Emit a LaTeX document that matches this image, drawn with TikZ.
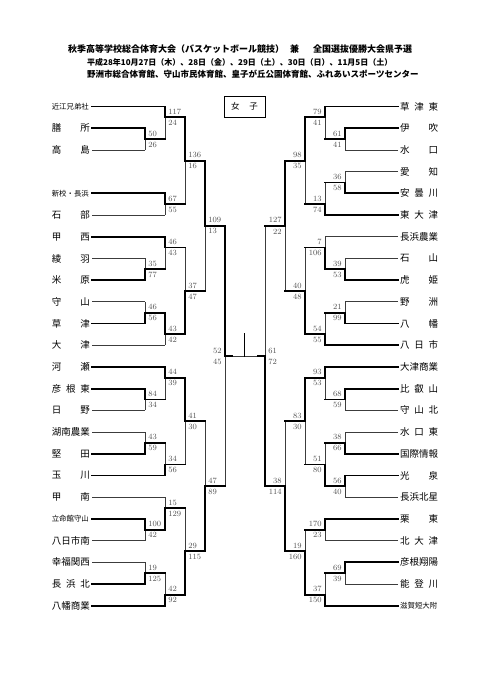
\documentclass[tikz,border=0pt]{standalone}
\usepackage{fontspec}
\usetikzlibrary{calc}
\newfontfamily\jp{Noto Sans CJK JP}
\definecolor{scoregray}{RGB}{80,80,80}
\definecolor{thingray}{RGB}{60,60,60}
\newcommand{\ssz}{\fontsize{7.4}{8}\selectfont}
\newcommand{\tn}[1]{\makebox[38pt][s]{#1}}
% name, (x,y) of output, top in, bottom in, top style, bottom style,
% top score, bottom score, label anchor
\newcommand{\game}[9]{%
    \coordinate (#1) at (#2);
    \draw[#5] (#3 -| #1) -- (#1);
    \draw[#6] (#1) -- (#4 -| #1);
    \node[score, anchor=#9] (#1-t) at ([yshift=5.5pt]#1) {#7};
    \node[score, anchor=#9] (#1-b) at ([yshift=-5.5pt]#1) {#8};
}

\begin{document}
\begin{tikzpicture}[x=1pt, y=-1pt,
    win/.style={line width=1.8pt, line cap=rect},
    lose/.style={line width=0.7pt, draw=thingray},
    score/.style={font=\fontsize{8}{8}\selectfont,
                  text=scoregray, inner xsep=3.2pt,
                  inner ysep=0pt},
    tml/.style={anchor=east, inner xsep=2pt, inner ysep=1pt,
                font=\jp\fontsize{9.5}{10}\selectfont},
    tmr/.style={anchor=west, inner xsep=2pt, inner ysep=1pt,
                font=\jp\fontsize{9.5}{10}\selectfont},
    ttl/.style={anchor=west, inner sep=0pt,
                font=\jp\bfseries\fontsize{9}{10}\selectfont},
]
\useasboundingbox (0,0) rectangle (481,680);

% -- Title ------------------------------------
\node[ttl] (ttl1) at (68,49)
    {秋季高等学校総合体育大会（バスケットボール競技）\hspace{6pt}兼\hspace{14pt}全国選抜優勝大会県予選};
\node[ttl, font=\jp\bfseries\fontsize{8}{9}\selectfont] (ttl2) at (87,62)
    {平成28年10月27日（木）、28日（金）、29日（土）、30日（日）、11月5日（土）};
\node[ttl, font=\jp\bfseries\fontsize{8.5}{9}\selectfont] (ttl3) at (87,74.5)
    {野洲市総合体育館、守山市民体育館、皇子が丘公園体育館、ふれあいスポーツセンター};

% -- Division box -----------------------------
\node[draw, line width=0.9pt, minimum width=41pt, minimum height=21pt,
      inner sep=0pt, font=\jp\fontsize{8.5}{9}\selectfont]
    (div) at (244.5,106.5) {\makebox[27pt][s]{女 子}};

% -- Teams ------------------------------------
\foreach \k/\n in {0/{\ssz 近江兄弟社}, 1/{膳 所}, 2/{高 島},
        4/{\ssz 新校・長浜}, 5/{石 部}, 6/{甲 西}, 7/{綾 羽},
        8/{米 原}, 9/{守 山}, 10/{草 津}, 11/{大 津}, 12/{河 瀬},
        13/{彦 根 東}, 14/{日 野}, 15/{湖南農業}, 16/{堅 田},
        17/{玉 川}, 18/{甲 南}, 19/{\ssz 立命館守山}, 20/{八日市南},
        21/{幸福関西}, 22/{長 浜 北}, 23/{八幡商業}}
    \node[tml] (L\k) at (92,106.5+21.7*\k) {\tn{\n}};
\foreach \k/\n in {0/{草 津 東}, 1/{伊 吹}, 2/{水 口}, 3/{愛 知},
        4/{安 曇 川}, 5/{東 大 津}, 6/{長浜農業}, 7/{石 山},
        8/{虎 姫}, 9/{野 洲}, 10/{八 幡}, 11/{八 日 市},
        12/{大津商業}, 13/{比 叡 山}, 14/{守 山 北}, 15/{水 口 東},
        16/{国際情報}, 17/{光 泉}, 18/{長浜北星}, 19/{栗 東},
        20/{北 大 津}, 21/{彦根翔陽}, 22/{能 登 川}, 23/{\ssz 滋賀短大附}}
    \node[tmr] (R\k) at (398,106.5+21.7*\k) {\tn{\n}};

% -- Left half games --------------------------
\game{ga1}{145,139.05}{L1}{L2}{win}{lose}{50}{26}{west}
\game{ga2}{165,117.35}{L0}{ga1}{win}{lose}{117}{24}{west}
\game{gb1}{165,204.15}{L4}{L5}{win}{lose}{67}{55}{west}
\game{gab}{185,160.75}{ga2}{gb1}{win}{lose}{136}{16}{west}
\game{gc1}{145,269.25}{L7}{L8}{lose}{win}{35}{77}{west}
\game{gc2}{165,247.55}{L6}{gc1}{win}{lose}{46}{43}{west}
\game{gd1}{145,312.65}{L9}{L10}{lose}{win}{46}{56}{west}
\game{gd2}{165,334.35}{gd1}{L11}{win}{lose}{43}{42}{west}
\game{gcd}{185,290.95}{gc2}{gd2}{lose}{win}{37}{47}{west}
\game{gtop}{205,225.85}{gab}{gcd}{win}{lose}{109}{13}{west}
\game{ge1}{145,399.45}{L13}{L14}{win}{lose}{84}{34}{west}
\game{ge2}{165,377.75}{L12}{ge1}{win}{lose}{44}{39}{west}
\game{gf1}{145,442.85}{L15}{L16}{lose}{win}{43}{59}{west}
\game{gf2}{165,464.55}{gf1}{L17}{lose}{win}{34}{56}{west}
\game{gef}{185,421.15}{ge2}{gf2}{win}{lose}{41}{30}{west}
\game{gg1}{145,529.65}{L19}{L20}{win}{lose}{100}{42}{west}
\game{gg2}{165,507.95}{L18}{gg1}{lose}{win}{15}{129}{west}
\game{gh1}{145,573.05}{L21}{L22}{lose}{win}{19}{125}{west}
\game{gh2}{165,594.75}{gh1}{L23}{lose}{win}{42}{92}{west}
\game{ggh}{185,551.35}{gg2}{gh2}{lose}{win}{29}{115}{west}
\game{gbot}{205,486.25}{gef}{ggh}{lose}{win}{47}{89}{west}
\game{gleft}{225,356.05}{gtop}{gbot}{win}{lose}{52}{45}{east}

% -- Right half games -------------------------
\game{ra1}{345,139.05}{R1}{R2}{win}{lose}{61}{41}{east}
\game{ra2}{325,117.35}{R0}{ra1}{win}{lose}{79}{41}{east}
\game{rb1}{345,182.45}{R3}{R4}{lose}{win}{36}{58}{east}
\game{rb2}{325,204.15}{rb1}{R5}{lose}{win}{13}{74}{east}
\game{rab}{305,160.75}{ra2}{rb2}{win}{lose}{98}{35}{east}
\game{rc1}{345,269.25}{R7}{R8}{lose}{win}{39}{53}{east}
\game{rc2}{325,247.55}{R6}{rc1}{lose}{win}{7}{106}{east}
\game{rd1}{345,312.65}{R9}{R10}{lose}{win}{21}{99}{east}
\game{rd2}{325,334.35}{rd1}{R11}{lose}{win}{54}{55}{east}
\game{rcd}{305,290.95}{rc2}{rd2}{lose}{win}{40}{48}{east}
\game{rtop}{285,225.85}{rab}{rcd}{win}{lose}{127}{22}{east}
\game{re1}{345,399.45}{R13}{R14}{win}{lose}{68}{59}{east}
\game{re2}{325,377.75}{R12}{re1}{win}{lose}{93}{53}{east}
\game{rf1}{345,442.85}{R15}{R16}{lose}{win}{38}{66}{east}
\game{rf2}{345,486.25}{R17}{R18}{win}{lose}{56}{40}{east}
\game{rf3}{325,464.55}{rf1}{rf2}{lose}{win}{51}{80}{east}
\game{ref}{305,421.15}{re2}{rf3}{win}{lose}{83}{30}{east}
\game{rg}{325,529.65}{R19}{R20}{win}{lose}{170}{23}{east}
\game{rh1}{345,573.05}{R21}{R22}{win}{lose}{69}{39}{east}
\game{rh2}{325,594.75}{rh1}{R23}{lose}{win}{37}{150}{east}
\game{rgh}{305,551.35}{rg}{rh2}{lose}{win}{19}{160}{east}
\game{rbot}{285,486.25}{ref}{rgh}{lose}{win}{38}{114}{east}
\game{rright}{265,356.05}{rtop}{rbot}{lose}{win}{61}{72}{west}

% -- Team lines -------------------------------
\foreach \t/\g in {L0/ga2, L1/ga1, L4/gb1, L6/gc2, L8/gc1, L10/gd1,
        L12/ge2, L13/ge1, L16/gf1, L17/gf2, L19/gg1, L22/gh1, L23/gh2,
        R0/ra2, R1/ra1, R4/rb1, R5/rb2, R8/rc1, R10/rd1, R11/rd2,
        R12/re2, R13/re1, R16/rf1, R17/rf2, R19/rg, R21/rh1, R23/rh2}
    \draw[win] (\t) -- (\t -| \g);
\foreach \t/\g in {L2/ga1, L5/gb1, L7/gc1, L9/gd1, L11/gd2, L14/ge1,
        L15/gf1, L18/gg2, L20/gg1, L21/gh1,
        R2/ra1, R3/rb1, R6/rc2, R7/rc1, R9/rd1, R14/re1, R15/rf1,
        R18/rf2, R20/rg, R22/rh1}
    \draw[lose] (\t) -- (\t -| \g);

% -- Winners moving on ------------------------
\foreach \a/\b in {ga1/ga2, ga2/gab, gb1/gab, gc1/gc2, gc2/gcd,
        gd1/gd2, gd2/gcd, gab/gtop, gcd/gtop, gtop/gleft,
        ge1/ge2, ge2/gef, gf1/gf2, gf2/gef, gg1/gg2, gg2/ggh,
        gh1/gh2, gh2/ggh, gef/gbot, ggh/gbot, gbot/gleft,
        ra1/ra2, ra2/rab, rb1/rb2, rb2/rab, rc1/rc2, rc2/rcd,
        rd1/rd2, rd2/rcd, rab/rtop, rcd/rtop, rtop/rright,
        re1/re2, re2/ref, rf1/rf3, rf2/rf3, rf3/ref, rg/rgh,
        rh1/rh2, rh2/rgh, ref/rbot, rgh/rbot, rbot/rright}
    \draw[win] (\a) -- (\a -| \b);

% -- Centre ------------------------------------
\coordinate (stem) at (244.5,334);
\draw[lose] (gleft) -- (rright);
\draw[win] (gleft) -- ++(7,0);
\draw[win] (rright) -- ++(-7,0);
\draw[win] (stem) -- (stem |- gleft);

\end{tikzpicture}
\end{document}
